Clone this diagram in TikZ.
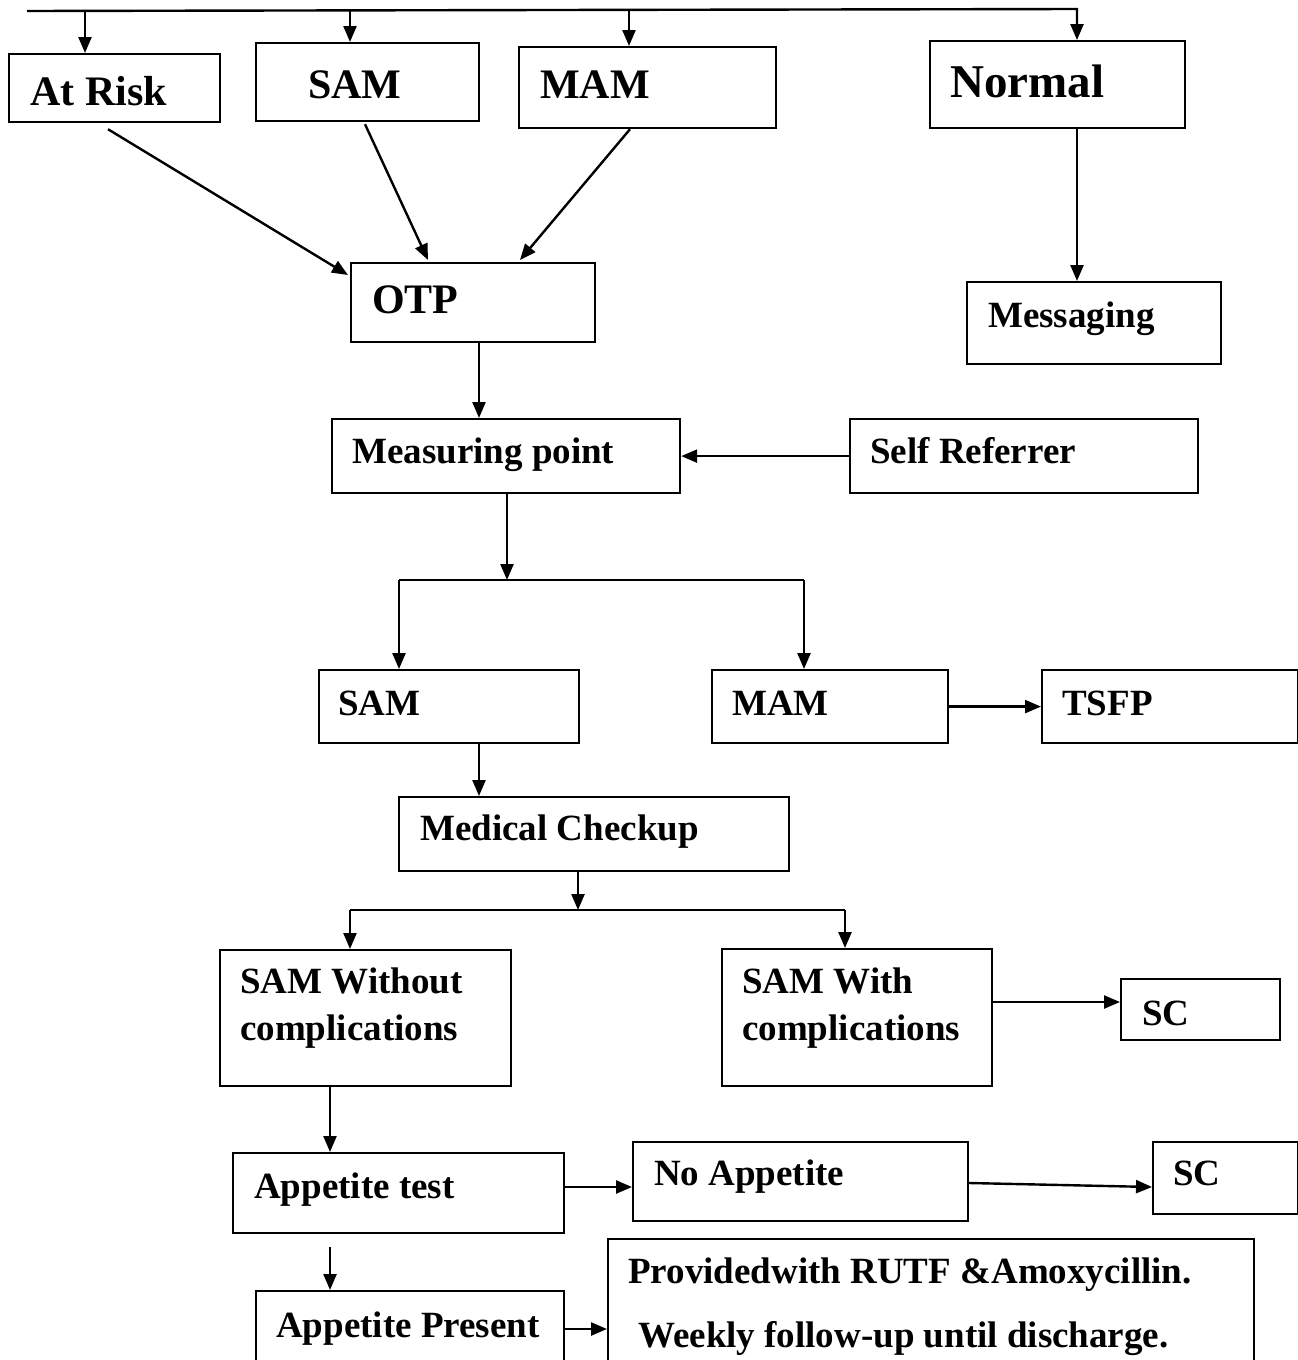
\documentclass[tikz,border=0pt]{standalone}
\usepackage{fontspec}
\setmainfont{Liberation Serif}
\usetikzlibrary{arrows.meta,calc}

\begin{document}
\begin{tikzpicture}[x=1pt,y=-1pt,
    box/.style={draw,line width=2.2pt,rectangle,anchor=north west,inner sep=0pt},
    txt/.style={anchor=base west,inner sep=0pt,align=left,
        font=\fontsize{37}{47}\selectfont\bfseries},
    bigtxt/.style={txt,font=\fontsize{42}{50}\selectfont\bfseries},
    ln/.style={line width=2.4pt},
    arr/.style={line width=2.4pt,-{Triangle[length=16pt,width=13pt]}}]
    \useasboundingbox (0,0) rectangle (1298,1360);

    % boxes
    \node[box,minimum width=211pt,minimum height=68pt] (atrisk) at (8,53) {};
    \node[box,minimum width=223pt,minimum height=78pt] (samA) at (255,42) {};
    \node[box,minimum width=257pt,minimum height=81pt] (mamA) at (518,46) {};
    \node[box,minimum width=255pt,minimum height=87pt] (normal) at (929,40) {};
    \node[box,minimum width=244pt,minimum height=79pt] (otp) at (350,262) {};
    \node[box,minimum width=254pt,minimum height=82pt] (msg) at (966,281) {};
    \node[box,minimum width=348pt,minimum height=74pt] (meas) at (331,418) {};
    \node[box,minimum width=348pt,minimum height=74pt] (selfref) at (849,418) {};
    \node[box,minimum width=260pt,minimum height=73pt] (samB) at (318,669) {};
    \node[box,minimum width=236pt,minimum height=73pt] (mamB) at (711,669) {};
    \node[box,minimum width=256pt,minimum height=73pt] (tsfp) at (1041,669) {};
    \node[box,minimum width=390pt,minimum height=74pt] (medical) at (398,796) {};
    \node[box,minimum width=291pt,minimum height=136pt] (samwo) at (219,949) {};
    \node[box,minimum width=270pt,minimum height=137pt] (samw) at (721,948) {};
    \node[box,minimum width=159pt,minimum height=61pt] (scA) at (1120,978) {};
    \node[box,minimum width=331pt,minimum height=80pt] (apptest) at (232,1152) {};
    \node[box,minimum width=335pt,minimum height=79pt] (noapp) at (632,1141) {};
    \node[box,minimum width=145pt,minimum height=72pt] (scB) at (1152,1141) {};
    \node[box,minimum width=308pt,minimum height=90pt] (apppres) at (255,1290) {};
    \node[box,minimum width=646pt,minimum height=140pt] (provided) at (607,1238) {};

    % texts
    \node[bigtxt] (tAtRisk) at (30,105) {At Risk};
    \node[bigtxt] (tSamA) at (308,98) {SAM};
    \node[bigtxt] (tMamA) at (540,98) {MAM};
    \node[txt,font=\fontsize{47}{56}\selectfont\bfseries] (tNormal) at (950,97) {Normal};
    \node[bigtxt] (tOtp) at (372,313) {OTP};
    \node[txt] (tMsg) at (988,327) {Messaging};
    \node[txt] (tMeas) at (352,463) {Measuring point};
    \node[txt] (tSelf) at (870,463) {Self Referrer};
    \node[txt] (tSamB) at (338,715) {SAM};
    \node[txt] (tMamB) at (732,715) {MAM};
    \node[txt] (tTsfp) at (1062,715) {TSFP};
    \node[txt] (tMed) at (420,840) {Medical Checkup};
    \node[txt] (tSamWo) at (240,1040) {SAM Without\\complications};
    \node[txt] (tSamW) at (742,1040) {SAM With\\complications};
    \node[txt] (tScA) at (1142,1025) {SC};
    \node[txt] (tAppTest) at (254,1198) {Appetite test};
    \node[txt] (tNoApp) at (654,1185) {No Appetite};
    \node[txt] (tScB) at (1173,1185) {SC};
    \node[txt] (tAppPres) at (276,1337) {Appetite Present};
    \node[txt] (tProv1) at (628,1283) {Providedwith RUTF \&Amoxycillin.};
    \node[txt] (tProv2) at (638,1347) {Weekly follow-up until discharge.};

    % top branch
    \coordinate (topL) at (27,11);
    \coordinate (topR) at (1077,9);
    \coordinate (t1) at (85,11);
    \coordinate (t2) at (350,10.5);
    \coordinate (t3) at (629,10);
    \draw[arr] (topL) -- (topR) -- (normal.north -| topR);
    \draw[arr] (t1) -- (atrisk.north -| t1);
    \draw[arr] (t2) -- (samA.north -| t2);
    \draw[arr] (t3) -- (mamA.north -| t3);

    \draw[arr] ($(atrisk.south west)+(100,6)$) -- ($(otp.north west)+(-2,13)$);
    \draw[arr] ($(samA.south west)+(110,2)$) -- ($(otp.north west)+(78,-2)$);
    \draw[arr] ($(mamA.south west)+(112,0)$) -- ($(otp.north west)+(170,-2)$);
    \draw[arr] (normal.south -| topR) -- (msg.north -| topR);

    \draw[arr] ($(otp.south west)+(129,0)$) coordinate (o1) -- (meas.north -| o1);
    \draw[arr] (selfref.west) -- (meas.east);

    % split after measuring
    \coordinate (jL) at (399,580);
    \coordinate (jR) at (804,580);
    \draw[arr] ($(meas.south west)+(176,0)$) coordinate (m1) -- (m1 |- jL);
    \draw[ln] (jL) -- (jR);
    \draw[arr] (jL) -- (samB.north -| jL);
    \draw[arr] (jR) -- (mamB.north -| jR);
    \draw[arr] (mamB.east) -- (tsfp.west);

    \draw[arr] ($(samB.south west)+(161,0)$) coordinate (s1) -- (medical.north -| s1);

    % split after checkup
    \coordinate (kL) at (350,910);
    \coordinate (kR) at (845,910);
    \draw[arr] ($(medical.south west)+(180,0)$) coordinate (c1) -- (c1 |- kL);
    \draw[ln] (kL) -- (kR);
    \draw[arr] (kL) -- (samwo.north -| kL);
    \draw[arr] (kR) -- (samw.north -| kR);
    \draw[arr] ($(samw.north east)+(0,54)$) coordinate (w1) -- (scA.west |- w1);

    \draw[arr] ($(samwo.south west)+(111,0)$) coordinate (a1) -- (apptest.north -| a1);
    \draw[arr] ($(apptest.north east)+(0,35)$) coordinate (a2) -- (noapp.west |- a2);
    \draw[arr] ($(noapp.north east)+(0,42)$) -- ($(scB.north west)+(0,46)$);
    \draw[arr] ($(apptest.south west)+(98,13)$) coordinate (a3) -- (apppres.north -| a3);
    \draw[arr] ($(apppres.north east)+(0,39)$) coordinate (a4) -- (provided.west |- a4);
\end{tikzpicture}
\end{document}
